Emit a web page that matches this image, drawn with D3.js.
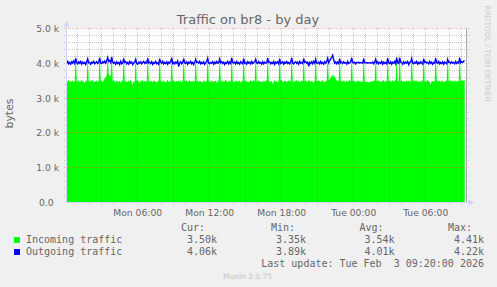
<!DOCTYPE html>
<html>
<head>
<meta charset="utf-8">
<script src="https://cdn.jsdelivr.net/npm/d3@7"></script>
<style>
  body { margin: 0; background: #f0f0f0; }
  svg { display: block; }
  text { font-family: "DejaVu Sans", sans-serif; fill: #666; }
  .mono { font-family: "DejaVu Sans Mono", monospace; font-size: 10px; white-space: pre; }
</style>
</head>
<body>
<div id="chart"></div>
<script>
const width = 497;
const height = 287;

// 5 minute samples, Mon 00:00 -> Tue 09:20 (one row = one hour)
const incoming = [
  3490,3450,3470,3510,3440,3480,3460,3500,3430,3470,4310,3480,
  3460,3500,3440,3480,3520,3450,3470,3420,3490,3460,4290,3470,
  3450,3490,3470,3510,3460,3440,3480,3500,3450,3470,4340,3490,
  3470,3440,3500,3550,3590,3630,4260,3660,3640,3610,4300,3500,
  3460,3480,3420,3500,3470,3450,3490,3430,3470,3500,4330,3460,
  3480,3440,3470,3490,3450,3510,3460,3350,3480,3450,4280,3470,
  3500,3460,3430,3480,3470,3510,3440,3470,3490,3450,4320,3480,
  3450,3490,3470,3440,3500,3460,3480,3420,3460,3490,4290,3470,
  3470,3450,3500,3460,3430,3480,3510,3450,3470,3440,4350,3460,
  3490,3460,3440,3480,3470,3500,3450,3490,3430,3470,4300,3480,
  3460,3500,3470,3450,3520,3440,3480,3460,3490,3450,4310,3470,
  3480,3440,3490,3460,3470,3430,3500,3480,3450,3470,4340,3490,
  3450,3470,3500,3440,3480,3460,3490,3420,3470,3500,4280,3460,
  3470,3490,3450,3480,3510,3460,3440,3470,3490,3450,4320,3480,
  3440,3480,3460,3500,3450,3470,3490,3430,3480,3460,4300,3470,
  3490,3450,3470,3440,3480,3500,3460,3470,3510,3450,4330,3460,
  3460,3500,3480,3450,3470,3440,3490,3460,3480,3500,4290,3480,
  3470,3440,3490,3380,3460,3510,3450,3480,3440,3470,4340,3490,
  3500,3460,3450,3480,3490,3440,3470,3500,3460,3480,4310,3450,
  3450,3480,3470,3510,3460,3490,3440,3470,3490,3460,4300,3470,
  3480,3470,3440,3490,3500,3450,3480,3460,3430,3490,4320,3480,
  3460,3490,3480,3450,3470,3510,3460,3440,3480,3470,4330,3500,
  3520,3570,3610,3660,3590,3620,3540,3500,3470,3490,4300,3460,
  3480,3450,3500,3470,3440,3490,3460,3480,3510,3450,4350,3470,
  3490,3460,3440,3480,3470,3500,3450,3470,3460,3450,4290,3460,
  3450,3460,3450,3440,3450,3460,3450,3480,3470,3500,4320,3480,
  3470,3500,3460,3440,3490,3470,3510,3450,3480,3460,4310,3470,
  3460,3490,3450,3500,3480,3460,3510,4290,3480,3460,4340,3470,
  3490,3450,3480,3470,3440,3500,3460,3490,3470,3450,4410,3480,
  3470,3500,3460,3490,3450,3470,3480,3440,3500,3460,4300,3470,
  3450,3480,3510,3460,3470,3360,3490,3470,3450,3480,4330,3490,
  3480,3460,3490,3450,3500,3470,3440,3480,3460,3490,4290,3460,
  3470,3490,3460,3480,3450,3500,3470,3460,3490,3450,4320,3480,
  3480,3500,3490,3500
];

const outgoing = [
  4020,3980,4040,3970,4010,3960,4030,3990,4050,3980,4130,4010,
  3970,4030,3990,4040,3960,4020,3980,4010,3950,4030,4110,4000,
  4010,3960,4020,3990,4040,3970,4000,4030,3980,4020,4140,3990,
  3980,4030,4000,4050,3990,4060,4150,4040,4070,4010,4160,4020,
  3990,4020,3960,4030,3980,4010,3950,4040,3970,4000,4120,4010,
  4030,3970,4010,3960,4040,3990,4020,3950,4000,4030,4100,3980,
  3960,4020,3990,4030,3970,4010,4040,3980,4020,3990,4130,4000,
  4020,3980,4030,3950,4010,3990,4040,3970,4000,3960,4110,4020,
  3990,4040,3970,4010,3980,4030,3960,4020,3990,4040,4140,3980,
  4010,3970,4020,3990,4050,3890,4000,4030,3970,4010,4120,4000,
  3980,4030,3960,4020,3990,4040,3970,4010,3950,4020,4100,4010,
  4020,3990,4040,3970,4010,3980,4030,3960,4000,4040,4130,3990,
  3970,4010,3990,4030,3960,4020,3980,4040,3990,4010,4110,4000,
  4030,3980,4020,3950,4010,3990,4040,3970,4020,3980,4140,4010,
  3990,4020,3970,4040,3980,4010,3960,4030,4000,3970,4120,3990,
  4010,3960,4030,3990,4020,3970,4040,3980,4010,4030,4100,4000,
  3980,4040,3990,4010,3960,4030,3970,4020,3990,4000,4130,4010,
  4020,3970,4010,3980,4040,3950,4020,3990,4030,3970,4110,3980,
  4000,4030,3960,4020,3990,4040,3980,4010,3970,4020,4140,4000,
  3970,4010,4030,3980,4020,3960,4040,3990,4010,3980,4120,4010,
  4030,3990,4020,3900,4010,3980,4030,3970,4040,3990,4100,3990,
  3990,4020,3970,4040,3980,4010,3960,4030,3990,4050,4130,4000,
  4060,4110,4160,4220,4080,3990,4030,3970,4020,3980,4110,4000,
  4020,3980,4030,3990,4010,3960,4040,3980,4000,4030,4140,4010,
  3990,4020,3970,4010,4000,4020,3990,4010,4000,3990,4120,4000,
  4000,4010,3990,4000,4010,3990,4000,4020,3970,4030,4100,3990,
  4030,3970,4010,3990,4040,3960,4020,3980,4010,3970,4130,4000,
  3980,4030,3960,4020,3990,4040,3970,4150,4000,3980,4140,4020,
  4010,3960,4030,3980,4020,3990,4040,3950,4010,4030,4120,3990,
  3970,4020,3990,4040,3960,4010,3980,4030,3990,3960,4110,4010,
  4030,3990,4010,3970,4040,3980,4020,3960,4010,3990,4130,4000,
  3990,4040,3970,4010,3980,4030,3960,4020,4000,3970,4100,4010,
  4020,3980,4030,3990,4010,3970,4040,3980,4020,3990,4140,4000,
  4030,4010,4050,4060
];

const seriesNames = ['Incoming traffic', 'Outgoing traffic'];
const seriesColors = ['#00ff00', '#0000ff'];
const statHeaders = ['Cur:', 'Min:', 'Avg:', 'Max:'];
const incomingStats = ['3.50k', '3.35k', '3.54k', '4.41k'];
const outgoingStats = ['4.06k', '3.89k', '4.01k', '4.22k'];
const yTicks = [0, 1000, 2000, 3000, 4000, 5000];
const yTickLabels = ['0.0', '1.0 k', '2.0 k', '3.0 k', '4.0 k', '5.0 k'];
const lastUpdate = 'Last update: Tue Feb  3 09:20:00 2026';

const startTime = Date.UTC(2026, 1, 2, 0, 0, 0);
const endTime = Date.UTC(2026, 1, 3, 9, 20, 0);
const step = 5 * 60 * 1000;
const timeOf = i => new Date(startTime + (i + 0.5) * step);

const svg = d3.select('#chart').append('svg')
  .attr('width', width)
  .attr('height', height);

svg.append('rect').attr('width', width).attr('height', height).attr('fill', '#f0f0f0');

const x = d3.scaleUtc().domain([startTime, endTime]).range([65.2, 465.2]);
const y = d3.scaleLinear().domain([0, 5000]).range([202, 28]);

// white canvas
svg.append('rect').attr('x', 66).attr('y', 28).attr('width', 401).attr('height', 175).attr('fill', '#fff');

// grid helpers
const minorY = d3.range(200, 5001, 200).filter(v => v % 1000 !== 0);
const hours = d3.utcHour.range(new Date(startTime + 1), new Date(endTime));
const minorX = hours.filter(d => d.getUTCHours() % 3 !== 0);
const majorX = hours.filter(d => d.getUTCHours() % 3 === 0);
const labelX = hours.filter(d => d.getUTCHours() % 6 === 0);

function grid(g, cls, color) {
  g.attr('class', cls);
  g.select('.domain').remove();
  g.selectAll('.tick line')
    .attr('stroke', color)
    .attr('stroke-dasharray', '1,1')
    .attr('shape-rendering', 'crispEdges');
}

// minor grid (under data)
svg.append('g').attr('transform', 'translate(64,0)')
  .call(d3.axisLeft(y).tickValues(minorY).tickSize(-406).tickFormat(''))
  .call(grid, 'grid-minor', 'rgba(128,128,128,0.4)');
svg.append('g').attr('transform', 'translate(0,205)')
  .call(d3.axisBottom(x).tickValues(minorX).tickSize(-177).tickFormat(''))
  .call(grid, 'grid-minor', 'rgba(128,128,128,0.4)');

// data
svg.append('clipPath').attr('id', 'plot')
  .append('rect').attr('x', 67).attr('y', 0).attr('width', 400).attr('height', 203);

const area = d3.area()
  .x((d, i) => x(timeOf(i)))
  .y0(202.5)
  .y1(d => y(d));

svg.append('path')
  .datum(incoming)
  .attr('clip-path', 'url(#plot)')
  .attr('fill', seriesColors[0])
  .attr('d', area);

// major grid (over area)
svg.append('g').attr('transform', 'translate(64,0)')
  .call(d3.axisLeft(y).tickValues(yTicks.slice(1)).tickSize(-406).tickFormat(''))
  .call(grid, 'grid-major', 'rgba(230,40,40,0.32)');
svg.append('g').attr('transform', 'translate(0,205)')
  .call(d3.axisBottom(x).tickValues(majorX).tickSize(-177).tickFormat(''))
  .call(grid, 'grid-major', 'rgba(230,40,40,0.32)');

const line = d3.line()
  .x((d, i) => x(timeOf(i)))
  .y(d => y(d));

svg.append('path')
  .datum(outgoing)
  .attr('clip-path', 'url(#plot)')
  .attr('fill', 'none')
  .attr('stroke', seriesColors[1])
  .attr('stroke-width', 1.4)
  .attr('d', line);

// right edge line
svg.append('line')
  .attr('x1', 466.5).attr('x2', 466.5).attr('y1', 28).attr('y2', 203)
  .attr('stroke', '#a8a8a8');

// axes with arrows
const axisCol = '#cfd6f8';
svg.append('line').attr('x1', 66.5).attr('x2', 66.5).attr('y1', 203).attr('y2', 25)
  .attr('stroke', axisCol);
svg.append('path').attr('d', 'M63.5,26.5L69.5,26.5L66.5,20.5Z').attr('fill', axisCol);
svg.append('line').attr('x1', 66).attr('x2', 470).attr('y1', 202.5).attr('y2', 202.5)
  .attr('stroke', axisCol);
svg.append('path').attr('d', 'M468.5,199.5L468.5,205.5L474.5,202.5Z').attr('fill', axisCol);

// tick labels
const yAxis = svg.append('g').attr('transform', 'translate(66,0)')
  .call(d3.axisLeft(y).tickValues(yTicks).tickSize(0).tickPadding(7)
    .tickFormat((d, i) => yTickLabels[i]));
yAxis.select('.domain').remove();
yAxis.selectAll('text')
  .attr('font-family', '"DejaVu Sans", sans-serif')
  .attr('font-size', 9.2)
  .attr('fill', '#666')
  .attr('dy', '0.37em')
  .filter(d => d === 0).attr('dx', -5.5);

const xAxis = svg.append('g').attr('transform', 'translate(0,203)')
  .call(d3.axisBottom(x).tickValues(labelX).tickSize(0).tickPadding(6.5)
    .tickFormat(d3.utcFormat('%a %H:%M')));
xAxis.select('.domain').remove();
xAxis.selectAll('text')
  .attr('font-family', '"DejaVu Sans", sans-serif')
  .attr('font-size', 9.2)
  .attr('fill', '#666');

// title & labels
svg.append('text').attr('x', 248).attr('y', 24).attr('text-anchor', 'middle')
  .attr('font-size', 13).text('Traffic on br8 - by day');
svg.append('text').attr('transform', 'translate(13,113.5) rotate(-90)')
  .attr('text-anchor', 'middle').attr('font-size', 10.9).text('bytes');
svg.append('text').attr('transform', 'translate(485,53.5) rotate(90)')
  .attr('text-anchor', 'middle').attr('font-size', 7.5).style('fill', '#ccc')
  .text('RRDTOOL / TOBI OETIKER');
svg.append('text').attr('x', 247.5).attr('y', 279).attr('text-anchor', 'middle')
  .attr('font-size', 7.5).style('fill', '#c4c4c4').text('Munin 2.0.75');

// legend
const headerEnds = [205, 295, 383.5, 472];
const valueEnds = [217, 306, 394.5, 484];
svg.selectAll('.hdr').data(statHeaders).enter().append('text')
  .attr('class', 'mono').attr('x', (d, i) => headerEnds[i]).attr('y', 231)
  .attr('text-anchor', 'end').text(d => d);

[incomingStats, outgoingStats].forEach((stats, s) => {
  const yy = 243 + s * 12;
  svg.append('rect').attr('x', 14).attr('y', yy - 6).attr('width', 6).attr('height', 6)
    .attr('fill', seriesColors[s]);
  svg.append('text').attr('class', 'mono').attr('x', 26).attr('y', yy).text(seriesNames[s]);
  svg.selectAll('.v' + s).data(stats).enter().append('text')
    .attr('class', 'mono').attr('x', (d, i) => valueEnds[i]).attr('y', yy)
    .attr('text-anchor', 'end').text(d => d);
});

svg.append('text').attr('class', 'mono').attr('x', 484).attr('y', 267)
  .attr('text-anchor', 'end').text(lastUpdate);
</script>
</body>
</html>
